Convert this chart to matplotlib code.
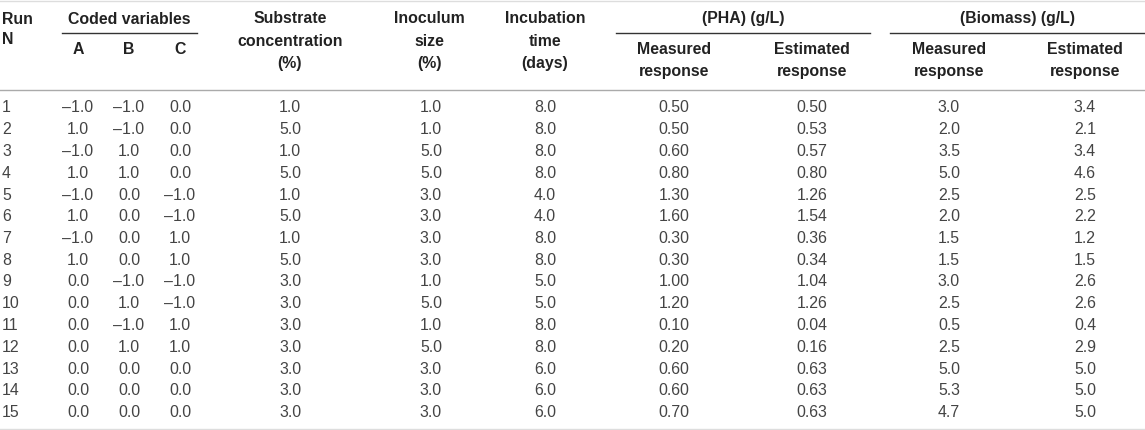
import matplotlib.pyplot as plt

# Data
runs = [1, 2, 3, 4, 5, 6, 7, 8, 9, 10, 11, 12, 13, 14, 15]
coded_a = [-1.0, 1.0, -1.0, 1.0, -1.0, 1.0, -1.0, 1.0, 0.0, 0.0, 0.0, 0.0, 0.0, 0.0, 0.0]
coded_b = [-1.0, -1.0, 1.0, 1.0, 0.0, 0.0, 0.0, 0.0, -1.0, 1.0, -1.0, 1.0, 0.0, 0.0, 0.0]
coded_c = [0.0, 0.0, 0.0, 0.0, -1.0, -1.0, 1.0, 1.0, -1.0, -1.0, 1.0, 1.0, 0.0, 0.0, 0.0]
substrate = [1.0, 5.0, 1.0, 5.0, 1.0, 5.0, 1.0, 5.0, 3.0, 3.0, 3.0, 3.0, 3.0, 3.0, 3.0]
inoculum = [1.0, 1.0, 5.0, 5.0, 3.0, 3.0, 3.0, 3.0, 1.0, 5.0, 1.0, 5.0, 3.0, 3.0, 3.0]
incubation = [8.0, 8.0, 8.0, 8.0, 4.0, 4.0, 8.0, 8.0, 5.0, 5.0, 8.0, 8.0, 6.0, 6.0, 6.0]
pha_measured = [0.50, 0.50, 0.60, 0.80, 1.30, 1.60, 0.30, 0.30, 1.00, 1.20, 0.10, 0.20, 0.60, 0.60, 0.70]
pha_estimated = [0.50, 0.53, 0.57, 0.80, 1.26, 1.54, 0.36, 0.34, 1.04, 1.26, 0.04, 0.16, 0.63, 0.63, 0.63]
bio_measured = [3.0, 2.0, 3.5, 5.0, 2.5, 2.0, 1.5, 1.5, 3.0, 2.5, 0.5, 2.5, 5.0, 5.3, 4.7]
bio_estimated = [3.4, 2.1, 3.4, 4.6, 2.5, 2.2, 1.2, 1.5, 2.6, 2.6, 0.4, 2.9, 5.0, 5.0, 5.0]


def fmt(v, nd=1):
    s = f'{abs(v):.{nd}f}'
    return ('\u2013' + s) if v < 0 else s


plt.rcParams['font.family'] = ['Liberation Sans', 'DejaVu Sans']

fig = plt.figure(figsize=(11.45, 4.30), dpi=100)
ax = fig.add_axes([0, 0, 1, 1])
ax.set_xlim(0, 1145)
ax.set_ylim(430, 0)
ax.axis('off')

fs = 11.4
hdr = dict(fontsize=fs, fontweight='bold', color='#222222', va='center')
cell = dict(fontsize=fs, color='#444444', va='center', ha='center')

# Lines
ax.plot([0, 1145], [1, 1], color='#dddddd', lw=1)
ax.plot([0, 1145], [89.5, 89.5], color='#aaaaaa', lw=1)
ax.plot([0, 1145], [428.5, 428.5], color='#dddddd', lw=1)
ax.plot([62, 197], [33, 33], color='#333333', lw=1)
ax.plot([616, 870], [33, 33], color='#333333', lw=1)
ax.plot([890, 1145], [33, 33], color='#333333', lw=1)

# Header
ax.text(2, 19, 'Run', ha='left', **hdr)
ax.text(2, 40, 'N', ha='left', **hdr)
ax.text(129, 19, 'Coded variables', ha='center', **hdr)
for x, lab in zip([78, 129, 180], ['A', 'B', 'C']):
    ax.text(x, 50, lab, ha='center', **hdr)
ax.text(290, 41, 'Substrate\nconcentration\n(%)', ha='center', linespacing=1.6, **hdr)
ax.text(429, 41, 'Inoculum\nsize\n(%)', ha='center', linespacing=1.6, **hdr)
ax.text(545, 41, 'Incubation\ntime\n(days)', ha='center', linespacing=1.6, **hdr)
ax.text(743, 19, '(PHA) (g/L)', ha='center', **hdr)
ax.text(1017, 19, '(Biomass) (g/L)', ha='center', **hdr)
for x, lab in zip([674, 812, 949, 1085], ['Measured', 'Estimated', 'Measured', 'Estimated']):
    ax.text(x, 60.5, lab + '\nresponse', ha='center', linespacing=1.6, **hdr)

# Rows
y0, dy = 108, 21.75
for i, r in enumerate(runs):
    y = y0 + i * dy
    ax.text(2, y, str(r), fontsize=fs, color='#444444', va='center', ha='left')
    ax.text(78, y, fmt(coded_a[i]), **cell)
    ax.text(129, y, fmt(coded_b[i]), **cell)
    ax.text(180, y, fmt(coded_c[i]), **cell)
    ax.text(290, y, fmt(substrate[i]), **cell)
    ax.text(431, y, fmt(inoculum[i]), **cell)
    ax.text(545, y, fmt(incubation[i]), **cell)
    ax.text(674, y, fmt(pha_measured[i], 2), **cell)
    ax.text(812, y, fmt(pha_estimated[i], 2), **cell)
    ax.text(949, y, fmt(bio_measured[i]), **cell)
    ax.text(1085, y, fmt(bio_estimated[i]), **cell)

fig.savefig('out.png', dpi=100)
